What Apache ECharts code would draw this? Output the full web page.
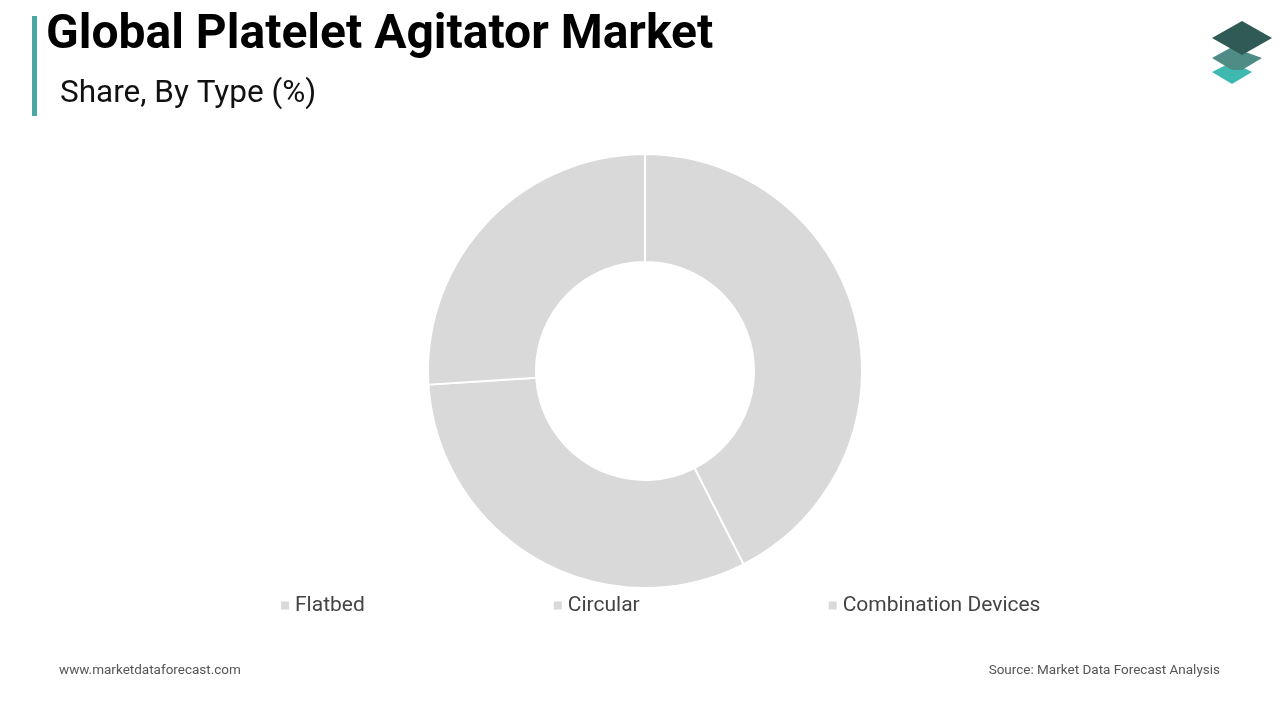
<!DOCTYPE html>
<html><head><meta charset="utf-8">
<script src="https://cdn.jsdelivr.net/npm/echarts@6/dist/echarts.min.js"></script>
<style>html,body{margin:0;padding:0;background:#fff}#c{width:1280px;height:720px}</style>
</head><body><div id="c"></div>
<script>
const categories = ['Flatbed', 'Circular', 'Combination Devices'];
const shares = [42.5, 31.5, 26.0];
const chart = echarts.init(document.getElementById('c'));
chart.setOption({
  animation: false,
  color: ['#d9d9d9', '#d9d9d9', '#d9d9d9'],
  graphic: [
    {type:'rect', shape:{x:32,y:16,width:5,height:100}, style:{fill:'#4aa7a4'}},
    {type:'text', left:46, top:12, style:{text:'Global Platelet Agitator Market', font:'bold 48px Roboto', fill:'#000'}},
    {type:'text', left:60, top:78, style:{text:'Share, By Type (%)', font:'31.5px Roboto', fill:'#111'}},
    {type:'text', left:59, top:664, style:{text:'www.marketdataforecast.com', font:'13.5px Roboto', fill:'#555'}},
    {type:'text', right:60, top:664, style:{text:'Source: Market Data Forecast Analysis', font:'13.5px Roboto', fill:'#555'}},
    {type:'polygon', shape:{points:[[1212,72],[1232,62],[1252,72],[1232,84]]}, style:{fill:'#3fb8b0'}},
    {type:'polygon', shape:{points:[[1212,58],[1232,47],[1262,58],[1242,70],[1232,70]]}, style:{fill:'#4f8c86'}},
    {type:'polygon', shape:{points:[[1212,38],[1242,21],[1272,38],[1242,55]]}, style:{fill:'#2f5a56'}}
  ],
  legend: {
    bottom: 99, left: 274, itemGap: 187, itemWidth: 10, itemHeight: 10, icon: 'rect',
    textStyle: {fontSize: 21, color: '#444', fontFamily: 'Roboto'},
    data: categories
  },
  series: [{
    type: 'pie', center: [645, 371], radius: [109, 217], startAngle: 90, clockwise: true,
    label: {show: false}, labelLine: {show: false},
    itemStyle: {borderColor: '#fff', borderWidth: 2},
    data: categories.map((n, i) => ({name: n, value: shares[i]}))
  }]
});
</script></body></html>
